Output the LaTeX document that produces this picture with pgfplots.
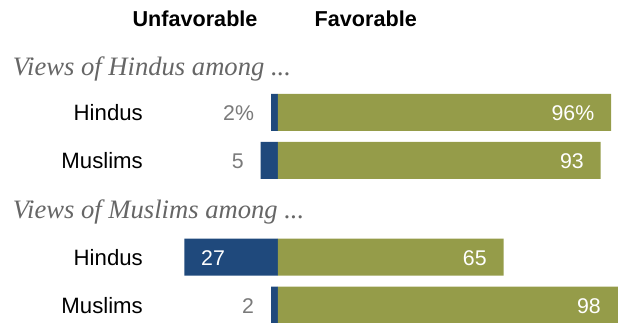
\documentclass[border=0pt]{standalone}
\usepackage{pgfplots}
\pgfplotsset{compat=1.18}
\usepackage{fontspec}
\setmainfont{Liberation Sans}
\newfontfamily\serifit{Liberation Serif}
\definecolor{unfav}{HTML}{1F497C}
\definecolor{fav}{HTML}{959C49}
\definecolor{valgray}{HTML}{7A7A7A}
\definecolor{headgray}{HTML}{666666}
\begin{document}
\begin{tikzpicture}
\begin{axis}[
  scale only axis, width=618pt, height=322pt,
  xmin=-80.12, xmax=98.0, ymin=0, ymax=322, y dir=reverse,
  hide axis, xbar, bar width=37pt, bar shift=0pt,
  clip=true,
]
% Unfavorable (negative)
\addplot[fill=unfav, draw=none] coordinates {(-2,112.3) (-5,160.3) (-27,257) (-2,305)};
% Favorable
\addplot[fill=fav, draw=none] coordinates {(96,112.3) (93,160.3) (65,257) (98,305)};
\end{axis}
\begin{axis}[
  scale only axis, width=618pt, height=322pt,
  xmin=-80.12, xmax=98.0, ymin=0, ymax=322, y dir=reverse,
  hide axis, clip=false,
]
\path (rel axis cs:0,0) rectangle (rel axis cs:1,1);
\tikzset{lab/.style={inner sep=0pt, font=\fontsize{22.2}{23}\selectfont},
         val/.style={inner sep=0pt, font=\fontsize{21.3}{22}\selectfont},
         hd/.style={inner sep=0pt, font=\fontsize{21.6}{22}\selectfont\bfseries},
         sec/.style={inner sep=0pt, text=headgray, font=\fontsize{26.6}{27}\selectfont\serifit\itshape}}
% titles
\node[hd, anchor=base] at (axis cs:-23.9,26) {Unfavorable};
\node[hd, anchor=base] at (axis cs:25.3,26) {Favorable};
% section headers
\node[sec, anchor=base west] at (axis cs:-76.45,75) {Views of Hindus among ...};
\node[sec, anchor=base west] at (axis cs:-76.45,218.3) {Views of Muslims among ...};
% row labels
\node[lab, anchor=base east] at (axis cs:-38.9,120.6) {Hindus};
\node[lab, anchor=base east] at (axis cs:-38.9,168.4) {Muslims};
\node[lab, anchor=base east] at (axis cs:-38.9,265.1) {Hindus};
\node[lab, anchor=base east] at (axis cs:-38.9,313.1) {Muslims};
% unfavorable values
\node[val, text=valgray, anchor=base east] at (axis cs:-6.85,120.6) {2\%};
\node[val, text=valgray, anchor=base east] at (axis cs:-9.85,168.4) {5};
\node[val, text=white, anchor=base west] at (axis cs:-22.2,265.1) {27};
\node[val, text=valgray, anchor=base east] at (axis cs:-6.85,313.1) {2};
% favorable values
\node[val, text=white, anchor=base east] at (axis cs:91.2,120.6) {96\%};
\node[val, text=white, anchor=base east] at (axis cs:88.2,168.4) {93};
\node[val, text=white, anchor=base east] at (axis cs:60.2,265.1) {65};
\node[val, text=white, anchor=base east] at (axis cs:93.1,313.1) {98};
\end{axis}
\end{tikzpicture}
\end{document}
